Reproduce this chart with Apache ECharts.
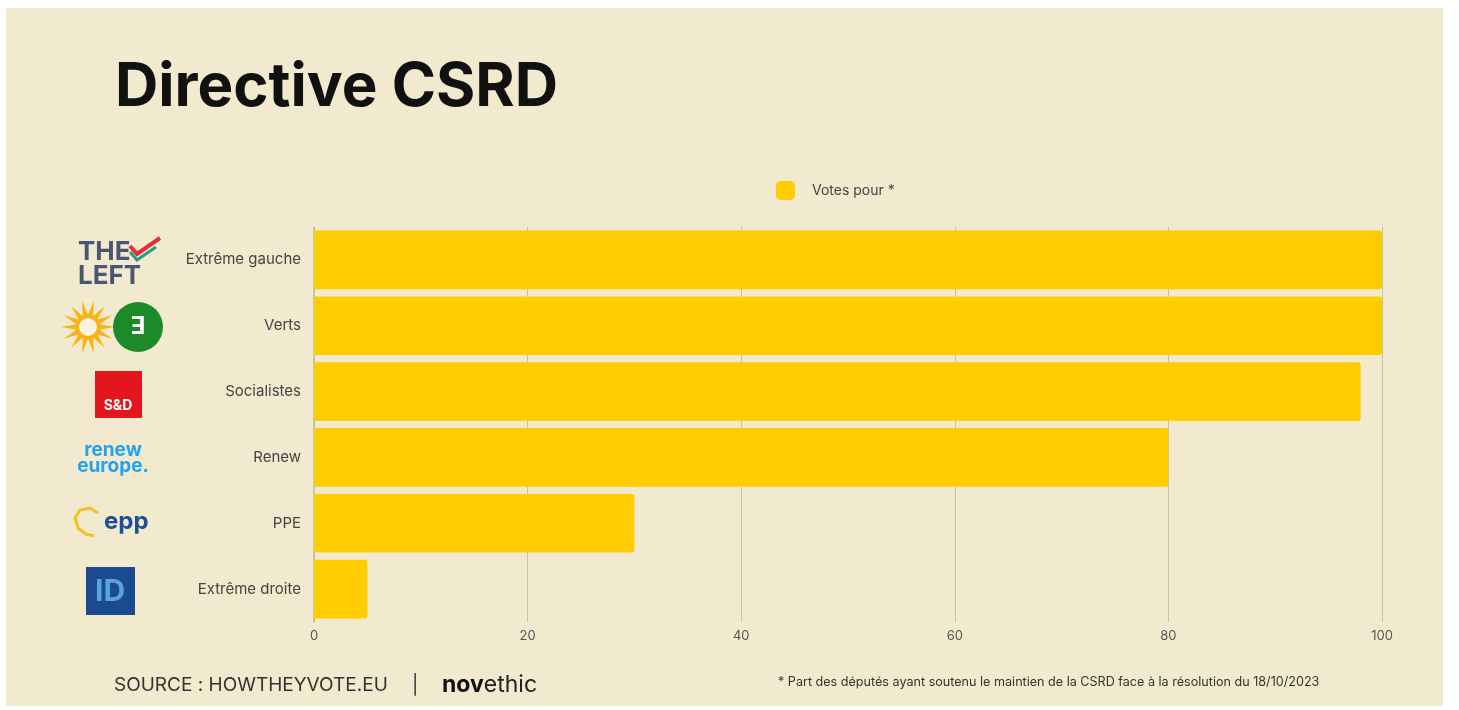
<!DOCTYPE html>
<html>
<head>
<meta charset="utf-8">
<script src="https://cdn.jsdelivr.net/npm/echarts@6/dist/echarts.min.js"></script>
<style>
html,body{margin:0;padding:0;background:#ffffff;}
#wrap{position:relative;width:1459px;height:710px;background:#fff;}
#chart{position:absolute;left:6px;top:8px;width:1437px;height:698px;}
</style>
</head>
<body>
<div id="wrap"><div id="chart"></div></div>
<script>
const categories = ['Extrême gauche', 'Verts', 'Socialistes', 'Renew', 'PPE', 'Extrême droite'];
const votesPour = [100, 100, 98, 80, 30, 5];
const xTicks = [0, 20, 40, 60, 80, 100];
const seriesName = 'Votes pour *';

const FONT = 'Inter, "Noto Sans", sans-serif';
const chart = echarts.init(document.getElementById('chart'));

// sunflower petals (decorative logo)
function starPoints(cx, cy, rOut, rIn, n) {
  const pts = [];
  for (let i = 0; i < n * 2; i++) {
    const r = i % 2 === 0 ? rOut : rIn;
    const a = Math.PI * i / n;
    pts.push([cx + r * Math.cos(a), cy + r * Math.sin(a)]);
  }
  return pts;
}

const logos = [
  // THE LEFT
  {type:'text', left:72, top:231, style:{text:'THE', font:'bold 26px ' + FONT, fill:'#4b5673'}},
  {type:'text', left:72, top:255, style:{text:'LEFT', font:'bold 26px ' + FONT, fill:'#4b5673'}},
  {type:'polyline', shape:{points:[[124,238],[131,246],[154,230]]}, style:{stroke:'#e0313a', lineWidth:4, fill:null}},
  {type:'polyline', shape:{points:[[124,244],[131,252],[150,239]]}, style:{stroke:'#2a9a8a', lineWidth:3, fill:null}},
  // Verts
  {type:'polygon', shape:{points:starPoints(82, 319, 27, 12, 14)}, style:{fill:'#f7b418'}},
  {type:'circle', shape:{cx:82, cy:319, r:9}, style:{fill:'#f8f3e0'}},
  {type:'circle', shape:{cx:132, cy:319, r:25}, style:{fill:'#1d8a2a'}},
  {type:'text', x:132, y:319, style:{text:'Ǝ', font:'bold 24px ' + FONT, fill:'#ffffff', align:'center', verticalAlign:'middle'}},
  // S&D
  {type:'rect', shape:{x:89, y:363, width:47, height:47}, style:{fill:'#e4161d'}},
  {type:'text', x:112, y:398, style:{text:'S&D', font:'bold 14px ' + FONT, fill:'#ffffff', align:'center', verticalAlign:'middle'}},
  // renew europe.
  {type:'text', x:107, y:442, style:{text:'renew', font:'bold 19px ' + FONT, fill:'#22a3f0', align:'center', verticalAlign:'middle'}},
  {type:'text', x:107, y:458, style:{text:'europe.', font:'bold 19px ' + FONT, fill:'#22a3f0', align:'center', verticalAlign:'middle'}},
  // epp
  {type:'polyline', shape:{points:[[92,505],[84,500],[74,502],[69,510],[72,520],[80,526],[88,528]]}, style:{stroke:'#f4c21c', lineWidth:3, fill:null}},
  {type:'text', x:98, y:514, style:{text:'epp', font:'bold 24px ' + FONT, fill:'#1c4f97', verticalAlign:'middle'}},
  // ID
  {type:'rect', shape:{x:80, y:559, width:49, height:48}, style:{fill:'#1c4a8e'}},
  {type:'text', x:104, y:584, style:{text:'ID', font:'bold 30px ' + FONT, fill:'#5aa3e3', align:'center', verticalAlign:'middle'}}
];

const option = {
  backgroundColor: '#F2EACE',
  textStyle: {fontFamily: FONT},
  title: {
    text: 'Directive CSRD',
    left: 104, top: 45,
    textStyle: {fontSize: 60, fontWeight: 'bold', color: '#111111', fontFamily: FONT}
  },
  legend: {
    data: [seriesName],
    left: 765, top: 168,
    icon: 'roundRect',
    itemWidth: 19, itemHeight: 19,
    textStyle: {fontSize: 14, color: '#444444', padding: [0, 0, 0, 12]}
  },
  grid: {left: 308, right: 61, top: 219, bottom: 84},
  xAxis: {
    type: 'value', min: 0, max: 100, interval: 20,
    axisLine: {show: false},
    axisTick: {show: false},
    axisLabel: {color: '#555555', fontSize: 13, margin: 8,
      formatter: v => xTicks.includes(v) ? String(v) : ''},
    splitLine: {show: true, lineStyle: {color: '#c6c0ac', width: 1}}
  },
  yAxis: {
    type: 'category', data: categories, inverse: true,
    axisLine: {show: true, lineStyle: {color: '#c0baa6', width: 1.5}},
    axisTick: {show: false},
    axisLabel: {color: '#444444', fontSize: 15, margin: 13}
  },
  series: [{
    name: seriesName,
    type: 'bar',
    data: votesPour,
    barCategoryGap: '11%',
    itemStyle: {color: '#FFCC00', borderRadius: [0, 3, 3, 0]}
  }],
  graphic: logos.concat([
    {type:'text', left:108, top:668, style:{text:'SOURCE : HOWTHEYVOTE.EU', font:'19px ' + FONT, fill:'#333333'}},
    {type:'text', left:406, top:668, style:{text:'|', font:'19px ' + FONT, fill:'#333333'}},
    {type:'text', left:436, top:666, style:{
      text:'{b|nov}{r|ethic}',
      rich:{b:{fontSize:23, fontWeight:'bold', fill:'#111111', fontFamily:FONT}, r:{fontSize:23, fill:'#222222', fontFamily:FONT}}
    }},
    {type:'text', left:772, top:668, style:{text:'* Part des députés ayant soutenu le maintien de la CSRD face à la résolution du 18/10/2023', font:'12.6px ' + FONT, fill:'#333333'}}
  ])
};
chart.setOption(option);
</script>
</body>
</html>
